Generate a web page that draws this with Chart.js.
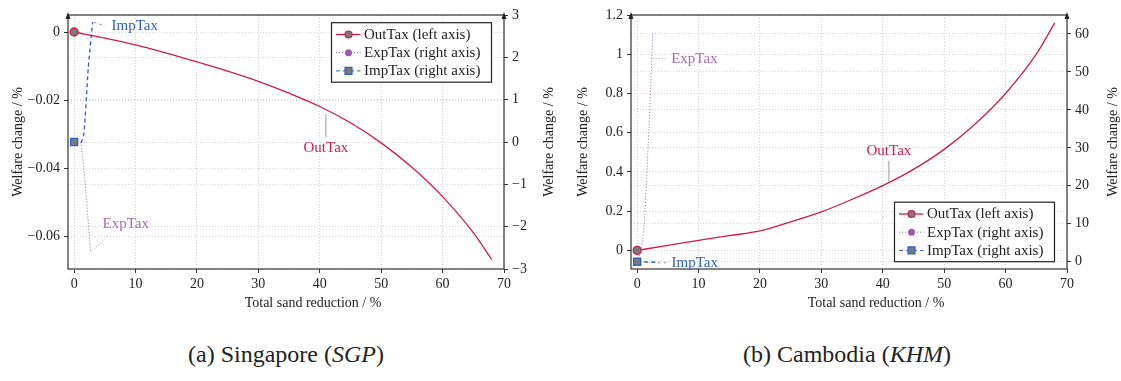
<!DOCTYPE html>
<html>
<head>
<meta charset="utf-8">
<script src="https://cdn.jsdelivr.net/npm/chart.js@4.4.1/dist/chart.umd.min.js"></script>
<style>
body { margin: 0; background: #fff; width: 1121px; height: 381px; position: relative; overflow: hidden; }
.box { position: absolute; top: 0; width: 560px; height: 320px; }
.cap { position: absolute; top: 342px; width: 560px; text-align: center; font-family: "Liberation Serif", "DejaVu Serif", serif; font-size: 24px; line-height: 24px; color: #222; }
</style>
</head>
<body>
<div class="box" style="left:0"><canvas id="chart-sgp" width="560" height="320"></canvas></div>
<div class="box" style="left:560px"><canvas id="chart-khm" width="560" height="320"></canvas></div>
<div class="cap" style="left:6px">(a) Singapore (<i>SGP</i>)</div>
<div class="cap" style="left:567px">(b) Cambodia (<i>KHM</i>)</div>
<script>
// shared x axis
var xTicks = [0, 10, 20, 30, 40, 50, 60, 70];

// Singapore (SGP)
var sgpSand = [0, 5, 10, 15, 20, 25, 30, 35, 40, 45, 50, 55, 60, 65, 68];
var sgpOutTax = [0, -0.0018, -0.0038, -0.0062, -0.0088, -0.0115, -0.0145, -0.018, -0.0219, -0.0267, -0.0326, -0.0398, -0.0484, -0.059, -0.0669];
var sgpExpSand = [0, 1.1, 2.7];
var sgpExpTax = [0, -0.02, -2.6];
var sgpImpSand = [0, 1.1, 1.6, 2.3, 3.0];
var sgpImpTax = [0, -0.02, 0.21, 1.75, 2.83];
var sgpLeftTicks = [0, -0.02, -0.04, -0.06];
var sgpRightTicks = [-3, -2, -1, 0, 1, 2, 3];

// Cambodia (KHM)
var khmSand = [0, 5, 10, 15, 20, 25, 30, 35, 40, 45, 50, 55, 60, 65, 68];
var khmOutTax = [0, 0.025, 0.051, 0.075, 0.099, 0.145, 0.196, 0.26, 0.33, 0.413, 0.515, 0.643, 0.8, 1.0, 1.16];
var khmExpSand = [0, 0.65, 1.2, 2.0, 2.53];
var khmExpTax = [0, 3, 11, 38, 60];
var khmImpSand = [0, 1, 2, 3];
var khmImpTax = [0, -0.05, -0.1, -0.15];
var khmLeftTicks = [0, 0.2, 0.4, 0.6, 0.8, 1, 1.2];
var khmRightTicks = [0, 10, 20, 30, 40, 50, 60];

var F = "Liberation Serif";
var RED = "#d6194b", PURPLE = "#9b59b6", BLUE = "#2c5fcc", MARK = "#7a7a7a";

function pts(xs, ys) { return xs.map(function (x, i) { return { x: x, y: ys[i] }; }); }
function fmt(v) { return String(Number(v.toFixed(3))).replace("-", "\u2212"); }
function firstOnly(r) { return function (c) { return c.dataIndex === 0 ? r : 0; }; }

var legendItems = [
  { text: "OutTax (left axis)", color: RED, dash: [], marker: "circle", fill: MARK },
  { text: "ExpTax (right axis)", color: PURPLE, dash: [1, 2], marker: "circle", fill: PURPLE },
  { text: "ImpTax (right axis)", color: BLUE, dash: [4, 3], marker: "rect", fill: MARK }
];

var decor = {
  id: "decor",
  afterDraw: function (chart) {
    var o = chart.options.plugins.decor, a = chart.chartArea, ctx = chart.ctx;
    ctx.save();
    // frame
    ctx.strokeStyle = "#333"; ctx.lineWidth = 1.2; ctx.setLineDash([]);
    ctx.strokeRect(a.left, a.top, a.right - a.left, a.bottom - a.top);
    // small arrow heads on y axis lines
    [a.left, a.right].forEach(function (x) {
      ctx.fillStyle = "#222";
      ctx.beginPath(); ctx.moveTo(x, a.top - 3); ctx.lineTo(x - 2.5, a.top + 4); ctx.lineTo(x + 2.5, a.top + 4); ctx.closePath(); ctx.fill();
    });
    // axis titles
    ctx.fillStyle = "#222"; ctx.font = "14px '" + F + "'"; ctx.textAlign = "center"; ctx.textBaseline = "middle";
    ctx.fillText("Total sand reduction / %", (a.left + a.right) / 2 + 27, 303);
    [o.titleL, o.titleR].forEach(function (x) {
      ctx.save(); ctx.translate(x, (a.top + a.bottom) / 2); ctx.rotate(-Math.PI / 2);
      ctx.fillText("Welfare change / %", 0, 0); ctx.restore();
    });
    // pins
    ctx.font = "15px '" + F + "'";
    o.pins.forEach(function (p) {
      var sx = chart.scales.x.getPixelForValue(p.at[0]);
      var sy = chart.scales[p.axis].getPixelForValue(p.at[1]);
      ctx.strokeStyle = "#9a9a9a"; ctx.lineWidth = 1; ctx.setLineDash(p.dash);
      ctx.beginPath(); ctx.moveTo(sx + p.from[0], sy + p.from[1]); ctx.lineTo(sx + p.to[0], sy + p.to[1]); ctx.stroke();
      ctx.setLineDash([]);
      ctx.fillStyle = p.color; ctx.textAlign = p.align;
      ctx.fillText(p.text, sx + p.txt[0], sy + p.txt[1]);
    });
    // legend box
    var bx = a.right - 12.5 - 160, by = o.legendTop ? a.top + 7.7 : a.bottom - 7.3 - 59.5;
    ctx.fillStyle = "#fff"; ctx.fillRect(bx, by, 160, 59.5);
    ctx.strokeStyle = "#222"; ctx.lineWidth = 1.2; ctx.strokeRect(bx, by, 160, 59.5);
    legendItems.forEach(function (it, i) {
      var cy = by + 11.8 + i * 18.2;
      ctx.strokeStyle = it.color; ctx.lineWidth = it.dash.length ? 1 : 1.3; ctx.setLineDash(it.dash);
      ctx.beginPath(); ctx.moveTo(bx + 4.5, cy); ctx.lineTo(bx + 29, cy); ctx.stroke();
      ctx.setLineDash([]);
      ctx.fillStyle = it.fill; ctx.lineWidth = 1.2;
      ctx.beginPath();
      if (it.marker === "rect") ctx.rect(bx + 13.5, cy - 3.5, 7, 7); else ctx.arc(bx + 17, cy, 3.5, 0, Math.PI * 2);
      ctx.fill(); if (it.fill === MARK) ctx.stroke();
      ctx.fillStyle = "#222"; ctx.textAlign = "left";
      ctx.fillText(it.text, bx + 32.5, cy + 0.5);
    });
    ctx.restore();
  }
};

function gridOpts() {
  return { color: "#cfcfcf", lineWidth: 0.9, tickLength: 4, tickColor: "#333", tickWidth: 1, tickBorderDash: [] };
}
function tickFont() { return { family: F, size: 14 }; }

function makeChart(id, sets, lim, ticksL, ticksR, decorOpts, widths) {
  return new Chart(document.getElementById(id).getContext("2d"), {
    type: "line",
    data: {
      datasets: [{
        label: "OutTax (left axis)",
        data: pts(sets.outX, sets.out),
        yAxisID: "y",
        borderColor: RED, borderWidth: 1.3, cubicInterpolationMode: "monotone",
        pointRadius: firstOnly(4), pointBackgroundColor: MARK, pointBorderColor: RED, pointBorderWidth: 1.3
      }, {
        label: "ImpTax (right axis)",
        data: pts(sets.impX, sets.imp),
        yAxisID: "y1",
        borderColor: BLUE, borderWidth: 1.3, borderDash: [4, 3], tension: 0.2,
        pointStyle: "rect", pointRadius: firstOnly(5), pointBackgroundColor: MARK, pointBorderColor: BLUE, pointBorderWidth: 1.3
      }, {
        label: "ExpTax (right axis)",
        data: pts(sets.expX, sets.exp),
        yAxisID: "y1",
        borderColor: PURPLE, borderWidth: 1, borderDash: [1, 2], tension: 0.2,
        pointRadius: firstOnly(3.5), pointBackgroundColor: PURPLE, pointBorderColor: PURPLE
      }]
    },
    options: {
      responsive: false,
      animation: false,
      layout: { padding: { top: 15, left: 0, right: 0, bottom: 0 } },
      plugins: { legend: { display: false }, tooltip: { enabled: false }, decor: decorOpts },
      scales: {
        x: {
          type: "linear", min: -1, max: 70,
          afterBuildTicks: function (s) { s.ticks = xTicks.map(function (v) { return { value: v }; }); },
          afterFit: function (s) { s.height = 51; },
          grid: gridOpts(), border: { display: false, dash: [1, 2] },
          ticks: { font: tickFont(), color: "#222", padding: 3, maxRotation: 0, autoSkip: false, callback: fmt }
        },
        y: {
          position: "left", min: lim.yMin, max: lim.yMax,
          afterBuildTicks: function (s) { s.ticks = ticksL.map(function (v) { return { value: v }; }); },
          afterFit: function (s) { s.width = widths[0]; },
          grid: gridOpts(), border: { display: false, dash: [1, 2] },
          ticks: { font: tickFont(), color: "#222", padding: 4, autoSkip: false, callback: fmt }
        },
        y1: {
          position: "right", min: lim.y1Min, max: lim.y1Max,
          afterBuildTicks: function (s) { s.ticks = ticksR.map(function (v) { return { value: v }; }); },
          afterFit: function (s) { s.width = widths[1]; },
          grid: gridOpts(), border: { display: false, dash: [1, 2] },
          ticks: { font: tickFont(), color: "#222", padding: 4, autoSkip: false, callback: fmt }
        }
      }
    },
    plugins: [decor]
  });
}

makeChart("chart-sgp",
  { outX: sgpSand, out: sgpOutTax, expX: sgpExpSand, exp: sgpExpTax, impX: sgpImpSand, imp: sgpImpTax },
  { yMin: -0.0697, yMax: 0.005, y1Min: -3, y1Max: 3 },
  sgpLeftTicks, sgpRightTicks,
  {
    titleL: 18, titleR: 549, legendTop: true,
    pins: [
      { text: "ImpTax", axis: "y1", at: [3.0, 2.83], from: [1, 0], to: [13, 4], txt: [19, 3.5], dash: [3, 3], color: BLUE, align: "left" },
      { text: "ExpTax", axis: "y1", at: [2.7, -2.6], from: [1, -1], to: [17, -16.5], txt: [35, -28.5], dash: [1, 2], color: "#a56bb8", align: "center" },
      { text: "OutTax", axis: "y", at: [41, -0.0225], from: [0, 5.5], to: [0, 28.5], txt: [0, 40], dash: [], color: RED, align: "center" }
    ]
  },
  [68, 56]);

makeChart("chart-khm",
  { outX: khmSand, out: khmOutTax, expX: khmExpSand, exp: khmExpTax, impX: khmImpSand, imp: khmImpTax },
  { yMin: -0.095, yMax: 1.2, y1Min: -1.92, y1Max: 65 },
  khmLeftTicks, khmRightTicks,
  {
    titleL: 23, titleR: 553, legendTop: false,
    pins: [
      { text: "ExpTax", axis: "y1", at: [2.37, 53.5], from: [1, 0], to: [14.5, 0], txt: [19.5, 0.5], dash: [1, 2], color: "#a56bb8", align: "left" },
      { text: "OutTax", axis: "y", at: [41, 0.345], from: [0, -1], to: [0, -22], txt: [0, -32], dash: [], color: RED, align: "center" },
      { text: "ImpTax", axis: "y1", at: [3, -0.15], from: [2, 0.5], to: [12, 0.5], txt: [16, 0.5], dash: [3, 3], color: BLUE, align: "left" }
    ]
  },
  [71, 53]);
</script>
</body>
</html>
